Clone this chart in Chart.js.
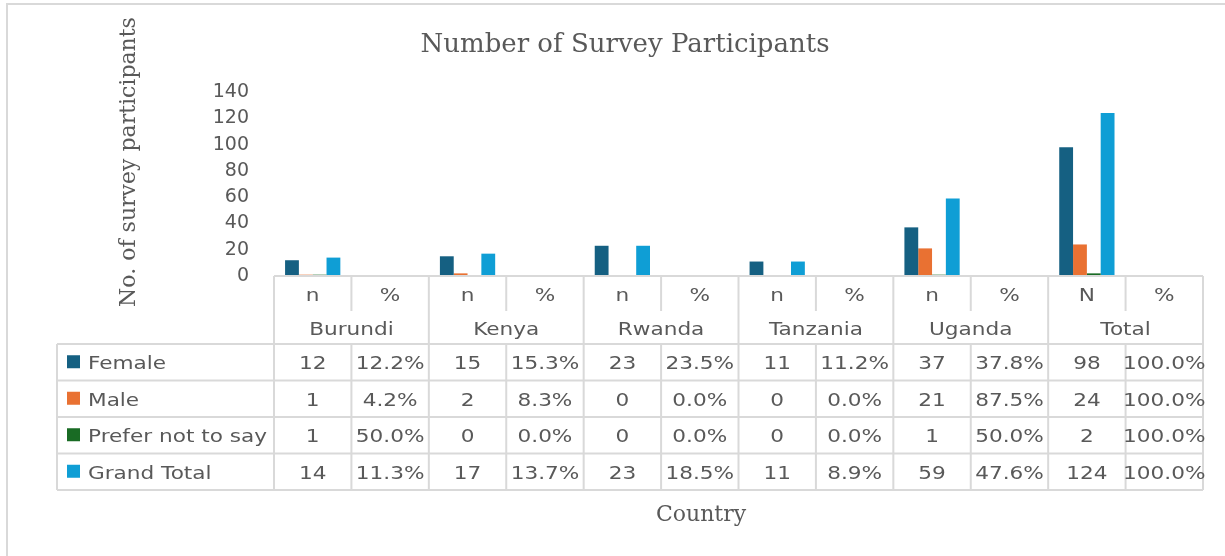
<!DOCTYPE html>
<html>
<head>
<meta charset="utf-8">
<title>Number of Survey Participants</title>
<script src="https://cdn.jsdelivr.net/npm/chart.js@4.4.1/dist/chart.umd.min.js"></script>
<style>
  html, body { margin: 0; padding: 0; background: #fff; }
  #chart { display: block; }
</style>
</head>
<body>
<canvas id="chart" width="1225" height="556"></canvas>
<script>
// Number of Survey Participants — clustered bars with an Excel-style data table

//  Data ──
const countries    = ['Burundi', 'Kenya', 'Rwanda', 'Tanzania', 'Uganda', 'Total'];
const subHeads     = ['n', '%', 'n', '%', 'n', '%', 'n', '%', 'n', '%', 'N', '%'];
const seriesNames  = ['Female', 'Male', 'Prefer not to say', 'Grand Total'];

const femaleN      = [12, 15, 23, 11, 37, 98];
const femalePct    = [12.2, 15.3, 23.5, 11.2, 37.8, 100.0];
const maleN        = [1, 2, 0, 0, 21, 24];
const malePct      = [4.2, 8.3, 0.0, 0.0, 87.5, 100.0];
const preferN      = [1, 0, 0, 0, 1, 2];
const preferPct    = [50.0, 0.0, 0.0, 0.0, 50.0, 100.0];
const grandN       = [14, 17, 23, 11, 59, 124];
const grandPct     = [11.3, 13.7, 18.5, 8.9, 47.6, 100.0];

const yMax  = 140;
const yStep = 20;

//  Style ─
const COLORS    = ['#156082', '#E97132', '#196B24', '#0F9ED5'];
const TEXT      = '#595959';
const LINE      = '#d9d9d9';
const SANS      = '"DejaVu Sans", sans-serif';
const SERIF     = '"DejaVu Serif", serif';
const STRETCH   = 1.2;   // table text is drawn a little wide, like the original

const seriesN   = [femaleN, maleN, preferN, grandN];
const seriesPct = [femalePct, malePct, preferPct, grandPct];

// bars only on the "n" columns; the "%" columns live in the table
function barValues(nArr) {
  const out = [];
  nArr.forEach(v => { out.push(v); out.push(null); });
  return out;
}

function tableCells(nArr, pArr) {
  const out = [];
  nArr.forEach((v, i) => { out.push(String(v)); out.push(pArr[i].toFixed(1) + '%'); });
  return out;
}

function wideText(ctx, text, x, y, align) {
  ctx.save();
  ctx.translate(x, y);
  ctx.scale(STRETCH, 1);
  ctx.textAlign = align || 'center';
  ctx.fillText(text, 0, 0);
  ctx.restore();
}

//  Frame, titles and data table 
const tablePlugin = {
  id: 'surveyTable',
  beforeDraw(chart) {
    const ctx = chart.ctx;
    ctx.save();
    ctx.strokeStyle = LINE;
    ctx.lineWidth = 2;
    ctx.beginPath();
    ctx.moveTo(7, chart.height);
    ctx.lineTo(7, 4);
    ctx.lineTo(chart.width, 4);
    ctx.stroke();
    ctx.restore();
  },
  afterDraw(chart) {
    const ctx  = chart.ctx;
    const area = chart.chartArea;
    const xs   = chart.scales.x;
    const cols = subHeads.length;
    const colW = (area.right - area.left) / cols;
    const edge = i => area.left + i * colW;

    const headTop   = area.bottom;
    const subBottom = headTop + 35;
    const headBot   = headTop + 68;
    const rowH      = 36.5;
    const legLeft   = 57;
    const tableBot  = headBot + rowH * seriesNames.length;

    ctx.save();

    // titles
    ctx.fillStyle = TEXT;
    ctx.textBaseline = 'alphabetic';
    ctx.textAlign = 'center';
    ctx.font = `26px ${SERIF}`;
    ctx.fillText('Number of Survey Participants', 625, 52);

    ctx.font = `22px ${SERIF}`;
    ctx.fillText('Country', 701, 521);

    ctx.save();
    ctx.translate(135, 162);
    ctx.rotate(-Math.PI / 2);
    ctx.fillText('No. of survey participants', 0, 0);
    ctx.restore();

    // grid lines of the table
    ctx.strokeStyle = LINE;
    ctx.lineWidth = 2;
    ctx.beginPath();
    ctx.moveTo(area.left, headTop);  ctx.lineTo(area.right, headTop);
    for (let r = 0; r <= seriesNames.length; r++) {
      const y = headBot + r * rowH;
      ctx.moveTo(legLeft, y); ctx.lineTo(area.right, y);
    }
    ctx.moveTo(legLeft, headBot); ctx.lineTo(legLeft, tableBot);
    for (let c = 0; c <= cols; c++) {
      const x = edge(c);
      if (c % 2 === 0) {
        ctx.moveTo(x, headTop); ctx.lineTo(x, tableBot);
      } else {
        ctx.moveTo(x, headTop); ctx.lineTo(x, subBottom);
        ctx.moveTo(x, headBot); ctx.lineTo(x, tableBot);
      }
    }
    ctx.stroke();

    // header text
    ctx.fillStyle = TEXT;
    ctx.font = `18px ${SANS}`;
    subHeads.forEach((h, i) => {
      wideText(ctx, h, xs.getPixelForValue(i), headTop + 25);
    });
    countries.forEach((c, i) => {
      wideText(ctx, c, (edge(i * 2) + edge(i * 2 + 2)) / 2, headTop + 59);
    });

    // series rows
    seriesNames.forEach((name, r) => {
      const top = headBot + r * rowH;
      const mid = top + rowH / 2;
      const base = mid + 7;

      ctx.fillStyle = COLORS[r];
      ctx.fillRect(67, mid - 7, 13, 13);

      ctx.fillStyle = TEXT;
      wideText(ctx, name, 88, base, 'left');

      tableCells(seriesN[r], seriesPct[r]).forEach((txt, i) => {
        wideText(ctx, txt, xs.getPixelForValue(i), base);
      });
    });

    ctx.restore();
  }
};

//  Chart ─
const chart = new Chart(document.getElementById('chart'), {
  type: 'bar',
  data: {
    labels: subHeads,
    datasets: seriesNames.map((name, i) => ({
      label: name,
      data: barValues(seriesN[i]),
      backgroundColor: COLORS[i],
      borderWidth: 0,
      categoryPercentage: 0.714,
      barPercentage: 1.0
    }))
  },
  options: {
    responsive: false,
    animation: false,
    layout: { padding: { top: 92, right: 22, bottom: 280, left: 0 } },
    plugins: {
      legend: { display: false },
      title: { display: false },
      tooltip: { enabled: false }
    },
    scales: {
      x: {
        display: false
      },
      y: {
        min: 0,
        max: yMax,
        afterFit: s => { s.width = 274; },
        grid: { display: false, drawTicks: false },
        border: { display: false },
        ticks: {
          stepSize: yStep,
          autoSkip: false,
          padding: 25,
          color: TEXT,
          font: { family: 'DejaVu Sans', size: 19, lineHeight: 1 }
        }
      }
    }
  },
  plugins: [tablePlugin]
});
</script>
</body>
</html>
